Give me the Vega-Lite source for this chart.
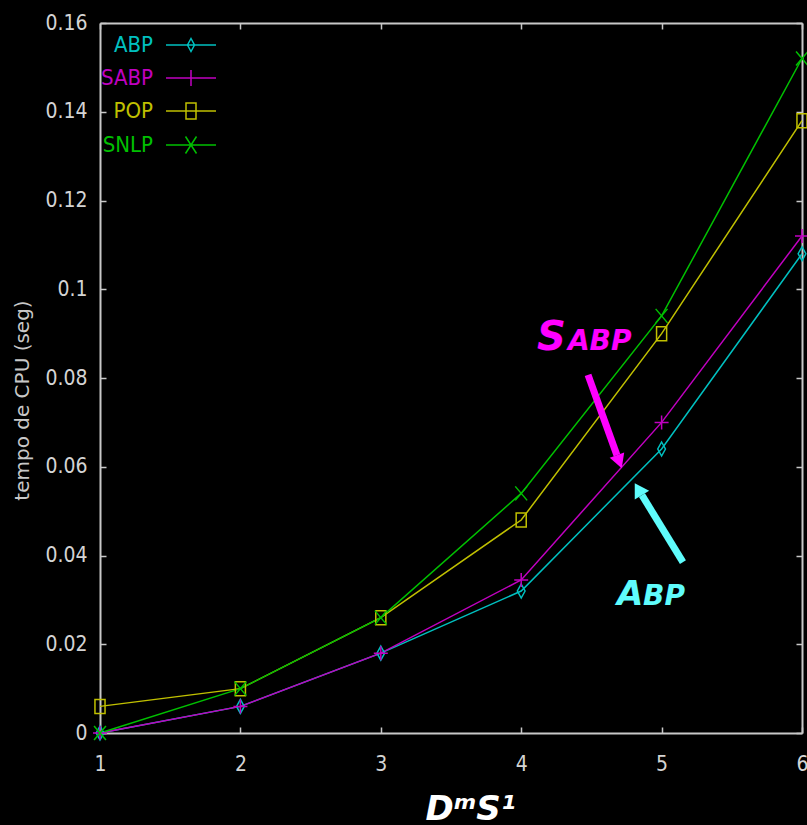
{
  "$schema": "https://vega.github.io/schema/vega-lite/v6.json",
  "width": 702,
  "height": 710,
  "autosize": {"type": "none"},
  "padding": {"left": 100, "top": 23, "right": 5, "bottom": 92},
  "background": "#000000",
  "config": {
    "view": {"stroke": null},
    "axis": {
      "grid": false,
      "domainColor": "#c8c8c8",
      "domainWidth": 2,
      "tickColor": "#c8c8c8",
      "tickWidth": 1.5,
      "tickSize": -6,
      "labelColor": "#d4d4d4",
      "labelFont": "DejaVu Sans Condensed, Liberation Sans, sans-serif",
      "labelFontSize": 21,
      "labelFlush": false
    }
  },
  "datasets": {
    "cpu": [
      {"n": 1, "t": 0.0, "metodo": "ABP"},
      {"n": 2, "t": 0.006, "metodo": "ABP"},
      {"n": 3, "t": 0.018, "metodo": "ABP"},
      {"n": 4, "t": 0.032, "metodo": "ABP"},
      {"n": 5, "t": 0.064, "metodo": "ABP"},
      {"n": 6, "t": 0.108, "metodo": "ABP"},
      {"n": 1, "t": 0.0, "metodo": "SABP"},
      {"n": 2, "t": 0.006, "metodo": "SABP"},
      {"n": 3, "t": 0.018, "metodo": "SABP"},
      {"n": 4, "t": 0.0345, "metodo": "SABP"},
      {"n": 5, "t": 0.07, "metodo": "SABP"},
      {"n": 6, "t": 0.112, "metodo": "SABP"},
      {"n": 1, "t": 0.006, "metodo": "POP"},
      {"n": 2, "t": 0.01, "metodo": "POP"},
      {"n": 3, "t": 0.026, "metodo": "POP"},
      {"n": 4, "t": 0.048, "metodo": "POP"},
      {"n": 5, "t": 0.09, "metodo": "POP"},
      {"n": 6, "t": 0.138, "metodo": "POP"},
      {"n": 1, "t": 0.0, "metodo": "SNLP"},
      {"n": 2, "t": 0.01, "metodo": "SNLP"},
      {"n": 3, "t": 0.026, "metodo": "SNLP"},
      {"n": 4, "t": 0.054, "metodo": "SNLP"},
      {"n": 5, "t": 0.094, "metodo": "SNLP"},
      {"n": 6, "t": 0.152, "metodo": "SNLP"}
    ],
    "arrowSabp": [{"x": 4.476, "y": 0.0807, "x2": 4.682, "y2": 0.0626}],
    "arrowAbp": [{"x": 5.152, "y": 0.0385, "x2": 4.86, "y2": 0.0536}],
    "sabpBig": [{"x": 4.113, "y": 0.0863, "t": "S"}],
    "sabpSmall": [{"x": 4.333, "y": 0.0863, "t": "ABP"}],
    "abpBig": [{"x": 4.682, "y": 0.0288, "t": "A"}],
    "abpSmall": [{"x": 4.868, "y": 0.0288, "t": "BP"}]
  },
  "layer": [
    {
      "data": {"name": "cpu"},
      "mark": {"type": "line", "interpolate": "linear", "strokeWidth": 1.5},
      "encoding": {
        "x": {
          "field": "n", "type": "quantitative",
          "scale": {"domain": [1, 6], "nice": false, "zero": false},
          "axis": {
            "orient": "bottom", "values": [1, 2, 3, 4, 5, 6], "format": "d",
            "labelPadding": 26,
            "title": "DᵐS¹",
            "titleFont": "DejaVu Sans", "titleFontWeight": "bold", "titleFontStyle": "italic",
            "titleFontSize": 34, "titleColor": "#ffffff",
            "titleX": 370, "titleY": 86, "titleBaseline": "alphabetic", "titleAlign": "center"
          }
        },
        "y": {
          "field": "t", "type": "quantitative",
          "scale": {"domain": [0, 0.16], "nice": false},
          "axis": {
            "orient": "left",
            "values": [0, 0.02, 0.04, 0.06, 0.08, 0.1, 0.12, 0.14, 0.16],
            "format": "~g",
            "labelPadding": 19,
            "title": "tempo de CPU (seg)",
            "titleFont": "DejaVu Sans", "titleFontWeight": "normal", "titleFontSize": 20,
            "titleColor": "#c8c8c8",
            "titleX": -78, "titleY": 377, "titleAngle": -90,
            "titleAlign": "center", "titleBaseline": "middle"
          }
        },
        "color": {
          "field": "metodo", "type": "nominal",
          "scale": {"domain": ["ABP", "SABP", "POP", "SNLP"], "range": ["#00c0c0", "#c000c0", "#c0c000", "#00c000"]},
          "legend": {
            "title": null,
            "orient": "none", "legendX": 80, "legendY": 11,
            "symbolSize": 400, "symbolStrokeWidth": 1.5,
            "labelAlign": "right", "labelOffset": -49,
            "labelFont": "DejaVu Sans Condensed, Liberation Sans, sans-serif", "labelFontSize": 22, "labelLimit": 0,
            "rowPadding": 11,
            "encode": {
              "symbols": {
                "update": {
                  "shape": {"signal": "datum.value === 'ABP' ? 'M-2.5,0H2.5M0,-0.65L0.35,0L0,0.65L-0.35,0Z' : datum.value === 'SABP' ? 'M-2.5,0H2.5M0,-0.8V0.8' : datum.value === 'POP' ? 'M-2.5,0H2.5M-0.5,-0.8H0.5V0.8H-0.5Z' : 'M-2.5,0H2.5M-0.55,-0.85L0.55,0.85M0.55,-0.85L-0.55,0.85'"},
                  "fill": {"value": "transparent"},
                  "strokeWidth": {"value": 1.5}
                }
              },
              "labels": {
                "update": {
                  "fill": {"signal": "datum.value === 'ABP' ? '#00c0c0' : datum.value === 'SABP' ? '#c000c0' : datum.value === 'POP' ? '#c0c000' : '#00c000'"}
                }
              }
            }
          }
        }
      }
    },
    {
      "data": {"name": "cpu"},
      "transform": [{"filter": {"field": "metodo", "equal": "ABP"}}],
      "mark": {"type": "point", "filled": false, "strokeWidth": 1.5, "size": 196, "opacity": 1, "color": "#00c0c0", "shape": "M0,-1L0.55,0L0,1L-0.55,0Z"},
      "encoding": {
        "x": {
          "field": "n", "type": "quantitative",
          "scale": {"domain": [1, 6], "nice": false, "zero": false},
          "axis": {"orient": "top", "values": [1, 2, 3, 4, 5, 6], "labels": false, "title": null}
        },
        "y": {
          "field": "t", "type": "quantitative",
          "scale": {"domain": [0, 0.16], "nice": false},
          "axis": {"orient": "right", "values": [0, 0.02, 0.04, 0.06, 0.08, 0.1, 0.12, 0.14, 0.16], "labels": false, "title": null}
        }
      }
    },
    {
      "data": {"name": "cpu"},
      "transform": [{"filter": {"field": "metodo", "equal": "SABP"}}],
      "mark": {"type": "point", "filled": false, "strokeWidth": 1.5, "size": 196, "opacity": 1, "color": "#c000c0", "shape": "M-1,0H1M0,-1V1"},
      "encoding": {
        "x": {"field": "n", "type": "quantitative", "scale": {"domain": [1, 6], "nice": false, "zero": false}, "axis": null},
        "y": {"field": "t", "type": "quantitative", "scale": {"domain": [0, 0.16], "nice": false}, "axis": null}
      }
    },
    {
      "data": {"name": "cpu"},
      "transform": [{"filter": {"field": "metodo", "equal": "POP"}}],
      "mark": {"type": "point", "filled": false, "strokeWidth": 1.5, "size": 196, "opacity": 1, "color": "#c0c000", "shape": "M-0.72,-1H0.72V1H-0.72Z"},
      "encoding": {
        "x": {"field": "n", "type": "quantitative", "scale": {"domain": [1, 6], "nice": false, "zero": false}, "axis": null},
        "y": {"field": "t", "type": "quantitative", "scale": {"domain": [0, 0.16], "nice": false}, "axis": null}
      }
    },
    {
      "data": {"name": "cpu"},
      "transform": [{"filter": {"field": "metodo", "equal": "SNLP"}}],
      "mark": {"type": "point", "filled": false, "strokeWidth": 1.5, "size": 196, "opacity": 1, "color": "#00c000", "shape": "M-0.85,-1L0.85,1M0.85,-1L-0.85,1"},
      "encoding": {
        "x": {"field": "n", "type": "quantitative", "scale": {"domain": [1, 6], "nice": false, "zero": false}, "axis": null},
        "y": {"field": "t", "type": "quantitative", "scale": {"domain": [0, 0.16], "nice": false}, "axis": null}
      }
    },
    {
      "data": {"name": "arrowSabp"},
      "mark": {"type": "rule", "color": "#ff00ff", "strokeWidth": 7, "strokeCap": "butt"},
      "encoding": {
        "x": {"field": "x", "type": "quantitative", "scale": {"domain": [1, 6], "nice": false, "zero": false}, "axis": null},
        "y": {"field": "y", "type": "quantitative", "scale": {"domain": [0, 0.16], "nice": false}, "axis": null},
        "x2": {"field": "x2"},
        "y2": {"field": "y2"}
      }
    },
    {
      "data": {"name": "arrowSabp"},
      "mark": {"type": "point", "shape": "M0,-1L-0.55,0L0.55,0Z", "size": 784, "angle": 160, "filled": true, "color": "#ff00ff", "opacity": 1},
      "encoding": {
        "x": {"field": "x2", "type": "quantitative", "scale": {"domain": [1, 6], "nice": false, "zero": false}, "axis": null},
        "y": {"field": "y2", "type": "quantitative", "scale": {"domain": [0, 0.16], "nice": false}, "axis": null}
      }
    },
    {
      "data": {"name": "arrowAbp"},
      "mark": {"type": "rule", "color": "#5ffcfc", "strokeWidth": 7, "strokeCap": "butt"},
      "encoding": {
        "x": {"field": "x", "type": "quantitative", "scale": {"domain": [1, 6], "nice": false, "zero": false}, "axis": null},
        "y": {"field": "y", "type": "quantitative", "scale": {"domain": [0, 0.16], "nice": false}, "axis": null},
        "x2": {"field": "x2"},
        "y2": {"field": "y2"}
      }
    },
    {
      "data": {"name": "arrowAbp"},
      "mark": {"type": "point", "shape": "M0,-1L-0.6,0L0.6,0Z", "size": 784, "angle": 329, "filled": true, "color": "#5ffcfc", "opacity": 1},
      "encoding": {
        "x": {"field": "x2", "type": "quantitative", "scale": {"domain": [1, 6], "nice": false, "zero": false}, "axis": null},
        "y": {"field": "y2", "type": "quantitative", "scale": {"domain": [0, 0.16], "nice": false}, "axis": null}
      }
    },
    {
      "data": {"name": "sabpBig"},
      "mark": {"type": "text", "font": "DejaVu Sans", "fontWeight": "bold", "fontStyle": "italic", "fontSize": 40, "color": "#ff00ff", "align": "left", "baseline": "alphabetic"},
      "encoding": {
        "x": {"field": "x", "type": "quantitative", "scale": {"domain": [1, 6], "nice": false, "zero": false}, "axis": null},
        "y": {"field": "y", "type": "quantitative", "scale": {"domain": [0, 0.16], "nice": false}, "axis": null},
        "text": {"field": "t"}
      }
    },
    {
      "data": {"name": "sabpSmall"},
      "mark": {"type": "text", "font": "DejaVu Sans", "fontWeight": "bold", "fontStyle": "italic", "fontSize": 28, "color": "#ff00ff", "align": "left", "baseline": "alphabetic"},
      "encoding": {
        "x": {"field": "x", "type": "quantitative", "scale": {"domain": [1, 6], "nice": false, "zero": false}, "axis": null},
        "y": {"field": "y", "type": "quantitative", "scale": {"domain": [0, 0.16], "nice": false}, "axis": null},
        "text": {"field": "t"}
      }
    },
    {
      "data": {"name": "abpBig"},
      "mark": {"type": "text", "font": "DejaVu Sans", "fontWeight": "bold", "fontStyle": "italic", "fontSize": 34, "color": "#5ffcfc", "align": "left", "baseline": "alphabetic"},
      "encoding": {
        "x": {"field": "x", "type": "quantitative", "scale": {"domain": [1, 6], "nice": false, "zero": false}, "axis": null},
        "y": {"field": "y", "type": "quantitative", "scale": {"domain": [0, 0.16], "nice": false}, "axis": null},
        "text": {"field": "t"}
      }
    },
    {
      "data": {"name": "abpSmall"},
      "mark": {"type": "text", "font": "DejaVu Sans", "fontWeight": "bold", "fontStyle": "italic", "fontSize": 28, "color": "#5ffcfc", "align": "left", "baseline": "alphabetic"},
      "encoding": {
        "x": {"field": "x", "type": "quantitative", "scale": {"domain": [1, 6], "nice": false, "zero": false}, "axis": null},
        "y": {"field": "y", "type": "quantitative", "scale": {"domain": [0, 0.16], "nice": false}, "axis": null},
        "text": {"field": "t"}
      }
    }
  ],
  "resolve": {"axis": {"x": "independent", "y": "independent"}}
}
